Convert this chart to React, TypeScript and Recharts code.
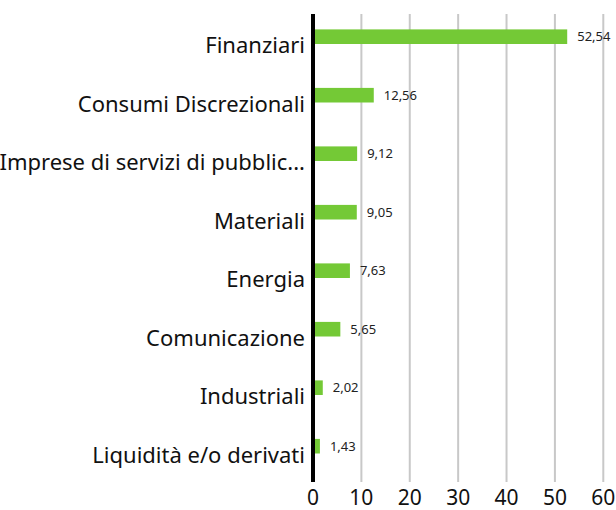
import React from "react";
import { BarChart, Bar, XAxis, YAxis, CartesianGrid, LabelList } from "recharts";

const categories = [
  "Finanziari",
  "Consumi Discrezionali",
  "Imprese di servizi di pubblic...",
  "Materiali",
  "Energia",
  "Comunicazione",
  "Industriali",
  "Liquidità e/o derivati",
];
const values = [52.54, 12.56, 9.12, 9.05, 7.63, 5.65, 2.02, 1.43];
const xTicks = [0, 10, 20, 30, 40, 50, 60];

const data = categories.map((name, i) => ({ name, value: values[i] }));

const FONT = "'Noto Sans', sans-serif";
const SHIFT = -6.6;
const GREEN = "#74c936";

const BarShape = (props: any) => {
  const { x, y, width, height } = props;
  return <rect x={x} y={y + SHIFT} width={width} height={height} fill={GREEN} />;
};

const ValueLabel = (props: any) => {
  const { x, y, width, height, value } = props;
  return (
    <text
      x={x + width + 10}
      y={y + height / 2 + SHIFT}
      dy="0.35em"
      fontSize={13}
      fontFamily={FONT}
      fill="#222"
      textAnchor="start"
    >
      {Number(value).toFixed(2).replace(".", ",")}
    </text>
  );
};

const YTick = (props: any) => {
  const { x, y, payload } = props;
  return (
    <text x={x} y={y + 2.5} dy="0.35em" textAnchor="end" fontSize={22} fontFamily={FONT} fill="#111">
      {payload.value}
    </text>
  );
};

export default function App() {
  return (
    <div style={{ position: "absolute", left: 0, top: 0, width: 616, height: 510, overflow: "hidden" }}>
      <BarChart
        width={616}
        height={510}
        data={data}
        layout="vertical"
        margin={{ top: 14, right: 12.7, bottom: 0, left: 0 }}
        barSize={14.6}
        style={{ overflow: "visible" }}
      >
        <CartesianGrid horizontal={false} vertical={true} stroke="#c8c8c8" strokeWidth={2} />
        <XAxis
          type="number"
          domain={[0, 60]}
          ticks={xTicks}
          axisLine={false}
          tickLine={false}
          height={28}
          interval={0}
          tick={{ fontSize: 21, fontFamily: FONT, fill: "#111" }}
        />
        <YAxis
          type="category"
          dataKey="name"
          width={313}
          axisLine={{ stroke: "#000", strokeWidth: 4 }}
          tickLine={false}
          tick={<YTick />}
          interval={0}
        />
        <Bar dataKey="value" isAnimationActive={false} shape={<BarShape />}>
          <LabelList dataKey="value" content={<ValueLabel />} />
        </Bar>
      </BarChart>
    </div>
  );
}
